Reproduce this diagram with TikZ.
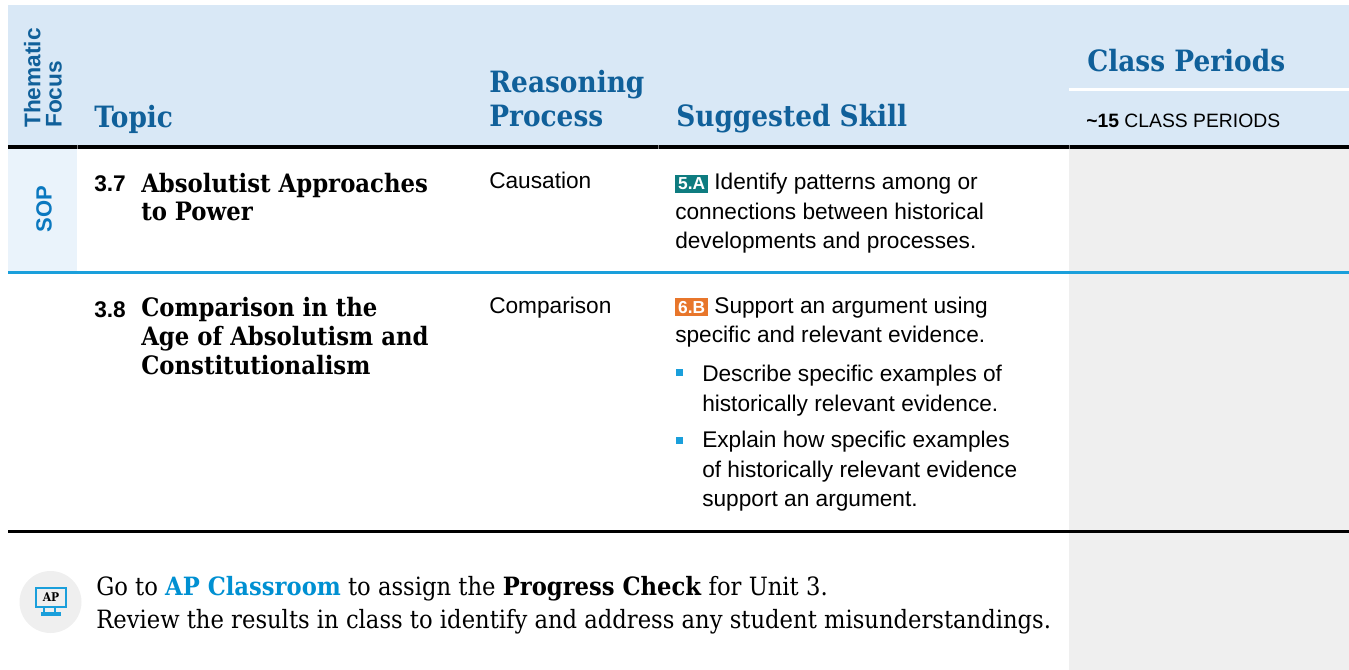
\documentclass[tikz,border=0pt]{standalone}
\usepackage{fontspec}
\setmainfont{Liberation Sans}
\newfontfamily\slabfont[FakeStretch=0.9]{DejaVu Serif}
\usepackage{tikz}
\usetikzlibrary{positioning}
\definecolor{headbg}{HTML}{D9E8F6}
\definecolor{sopbg}{HTML}{EAF3FB}
\definecolor{periodbg}{HTML}{EFEFEF}
\definecolor{headblue}{HTML}{10609A}
\definecolor{sopblue}{HTML}{0B78BF}
\definecolor{ruleblue}{HTML}{1A9FDB}
\definecolor{aplink}{HTML}{0090D2}
\definecolor{skillteal}{HTML}{0E7C80}
\definecolor{skillorange}{HTML}{E8762B}
\newcommand{\skillbadge}[2]{{\setlength{\fboxsep}{2.2pt}\colorbox{#1}{\textcolor{white}{\bfseries\fontsize{13}{13}\selectfont #2}}}}
\tikzset{colhead/.style={anchor=base west,inner sep=0pt,align=left,text=headblue,
    font=\slabfont\bfseries\fontsize{22}{25.5}\selectfont},
    topicnum/.style={anchor=base west,inner sep=0pt,font=\bfseries\fontsize{17}{21}\selectfont},
    topictitle/.style={anchor=base west,inner sep=0pt,align=left,
    font=\slabfont\bfseries\fontsize{19}{21.5}\selectfont},
    bodytext/.style={anchor=base west,inner sep=0pt,align=left,font=\fontsize{17}{22.1}\selectfont},
    bulletsq/.style={fill=ruleblue,minimum size=5.25pt,inner sep=0pt}}

\begin{document}
\begin{tikzpicture}[x=0.75pt,y=0.75pt,yscale=-1,xscale=1]
\useasboundingbox (0,0) rectangle (1349,670);

%Shapes: backgrounds
\fill[headbg] (8,5) rectangle (1349,145);
\fill[sopbg] (8,149) rectangle (77,271);
\fill[periodbg] (1069,149) rectangle (1349,670);
%Straight Lines: rules
\draw[white,line width=2.25pt] (1069,90) -- (1349,90);
\draw[line width=3.4pt] (8,147) -- (1349,147);
\draw[ruleblue,line width=2.25pt] (8,272.5) -- (1349,272.5);
\draw[line width=2.25pt] (8,531) -- (1349,531);
\foreach \x in {77,658,1069} {\draw[gray,line width=0.5pt] (\x,145) -- (\x,149);}

% Text Node: header (multi-line nodes sit on their last baseline)
\node[rotate=90,anchor=south west,inner sep=0pt,align=left,text=headblue,
  font=\bfseries\fontsize{17}{15.8}\selectfont] (theme) at (62,128) {Thematic\\Focus};
\node[colhead] (topic) at (94,128) {Topic};
\node[colhead] (reasoning) at (489,127) {Reasoning\\Process};
\node[colhead] (skill) at (676,127) {Suggested Skill};
\node[colhead] (periods) at (1087,72) {Class Periods};
\node[anchor=base west,inner sep=0pt,font=\fontsize{14.5}{17}\selectfont] (count) at (1086,128)
  {\textbf{\textasciitilde15} CLASS PERIODS};

% Text Node: topic 3.7
\node[rotate=90,text=sopblue,font=\bfseries\fontsize{16.5}{18}\selectfont] (sop) at (44,209) {SOP};
\node[topicnum] (num37) at (94,192) {3.7};
\node[topictitle] (title37) at (141,221) {Absolutist Approaches\\to Power};
\node[bodytext] (proc37) at (489,189) {Causation};
\node[bodytext] (skill37) at (675,248.5)
  {\skillbadge{skillteal}{5.A} Identify patterns among or\\connections between historical\\developments and processes.};

% Text Node: topic 3.8
\node[topicnum] (num38) at (94,317) {3.8};
\node[topictitle] (title38) at (141,374) {Comparison in the\\Age of Absolutism and\\Constitutionalism};
\node[bodytext] (proc38) at (489,313) {Comparison};
\node[bodytext] (skill38) at (675,342.5)
  {\skillbadge{skillorange}{6.B} Support an argument using\\specific and relevant evidence.};
\node[bulletsq] (dot1) at (679.5,372.5) {};
\node[bodytext] (item1) at (702,411) {Describe specific examples of\\historically relevant evidence.};
\node[bulletsq] (dot2) at (679.5,440) {};
\node[bodytext] (item2) at (702,506.5) {Explain how specific examples\\of historically relevant evidence\\support an argument.};

%Shape: AP Classroom icon
\node[circle,fill=periodbg,minimum size=46.5pt,inner sep=0pt] (apicon) at (50.5,602) {};
\draw[ruleblue,line width=1.5pt] (36,588) rectangle (66,607);
\node[font=\slabfont\bfseries\fontsize{9}{9}\selectfont,inner sep=0pt] (aplabel) at (51,597.5) {AP};
\draw[ruleblue,line width=1.2pt] (44,608) -- (44,612) (55,608) -- (55,612);
\draw[ruleblue,line width=2.8pt] (41,614) -- (61,614);

% Text Node: note
\node[anchor=base west,inner sep=0pt,align=left,font=\slabfont\fontsize{18.9}{24.5}\selectfont] (note) at (96,628)
  {Go to \textcolor{aplink}{\bfseries AP Classroom} to assign the \textbf{Progress Check} for Unit 3.\\
   Review the results in class to identify and address any student misunderstandings.};

\end{tikzpicture}
\end{document}
